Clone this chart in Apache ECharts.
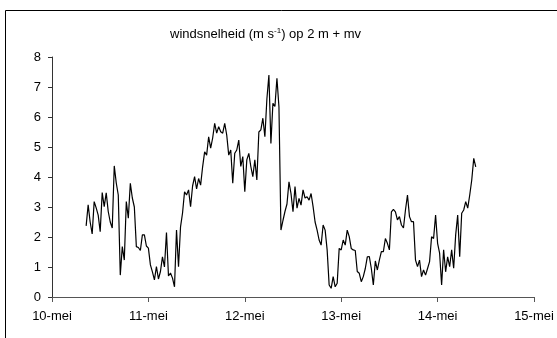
<!DOCTYPE html>
<html>
<head>
<meta charset="utf-8">
<title>windsnelheid</title>
<script src="https://cdn.jsdelivr.net/npm/echarts@6/dist/echarts.min.js"></script>
<style>
  html, body { margin: 0; padding: 0; background: #fff; }
  #chart { width: 557px; height: 338px; }
</style>
</head>
<body>
<div id="chart"></div>
<script>
// Half-hourly wind speed at 2 m above ground level, 10-14 May.
const dayLabels = ['10-mei', '11-mei', '12-mei', '13-mei', '14-mei', '15-mei'];
const startHour = 8.5;   // hours after 10 May 00:00 of the first reading
const stepHours = 0.5;   // interval between readings
const windSpeed = [
  2.37, 3.07, 2.50, 2.10, 3.18, 2.97, 2.73, 2.18, 3.48, 3.01,
  3.47, 2.85, 2.50, 2.30, 4.37, 3.80, 3.40, 0.73, 1.68, 1.23,
  3.18, 2.63, 3.79, 3.30, 3.00, 1.68, 1.65, 1.55, 2.07, 2.07,
  1.70, 1.63, 1.07, 0.84, 0.57, 1.01, 0.60, 0.85, 1.34, 1.00,
  2.15, 0.70, 0.80, 0.63, 0.34, 2.23, 1.01, 2.34, 2.80, 3.51,
  3.40, 3.57, 3.01, 3.70, 4.01, 3.60, 3.95, 3.73, 4.34, 4.84,
  4.73, 5.34, 4.96, 5.30, 5.79, 5.46, 5.68, 5.51, 5.46, 5.79,
  5.40, 4.73, 4.90, 3.79, 4.79, 4.90, 5.23, 4.35, 4.68, 3.51,
  4.57, 4.79, 4.35, 4.01, 4.57, 3.90, 5.50, 5.57, 5.96, 5.34,
  6.60, 7.40, 5.12, 6.46, 6.35, 7.29, 6.34, 2.23, 2.55, 2.85,
  3.10, 3.84, 3.45, 2.84, 3.68, 2.96, 3.29, 3.06, 3.57, 3.30,
  3.34, 3.23, 3.45, 3.01, 2.50, 2.23, 1.90, 1.73, 2.40, 2.23,
  1.57, 0.40, 0.29, 0.68, 0.34, 0.46, 1.62, 1.57, 1.90, 1.73,
  2.23, 2.01, 1.62, 1.57, 1.55, 0.85, 0.79, 0.51, 0.68, 0.95,
  1.34, 1.35, 0.95, 0.40, 1.20, 0.90, 1.23, 1.51, 1.51, 1.95,
  1.79, 1.57, 2.84, 2.92, 2.84, 2.57, 2.68, 2.40, 2.30, 2.90,
  3.40, 2.68, 2.51, 2.51, 1.23, 1.01, 1.23, 0.68, 0.90, 0.73,
  0.95, 1.18, 2.01, 1.95, 2.73, 1.79, 1.46, 0.40, 1.57, 0.84,
  1.34, 1.01, 1.57, 0.96, 2.07, 2.73, 1.34, 2.79, 2.90, 3.18,
  2.96, 3.40, 3.90, 4.62, 4.34
];

const seriesData = windSpeed.map((v, i) => [startHour + i * stepHours, v]);

const FONT = '"Liberation Sans", Arial, sans-serif';
const chart = echarts.init(document.getElementById('chart'), null, { renderer: 'canvas' });

chart.setOption({
  animation: false,
  backgroundColor: '#fff',
  title: {
    text: 'windsnelheid (m s{sup|-1}) op 2 m + mv',
    left: 170,
    top: 27,
    padding: 0,
    textStyle: {
      fontFamily: FONT,
      fontSize: 13,
      fontWeight: 'normal',
      color: '#000',
      rich: {
        sup: { fontFamily: FONT, fontSize: 8, color: '#000', verticalAlign: 'top', padding: [0, 0, 7, 0] }
      }
    }
  },
  graphic: [{
    type: 'rect',
    shape: { x: 5.5, y: 10.5, width: 600, height: 400 },
    style: { fill: 'none', stroke: '#000', lineWidth: 1 },
    silent: true,
    z: -1
  }],
  grid: { left: 52, right: 23, top: 57, bottom: 41, containLabel: false },
  xAxis: {
    type: 'value',
    min: 0,
    max: 120,
    interval: 24,
    axisLine: { show: true, onZero: false, lineStyle: { color: '#555', width: 1 } },
    axisTick: { show: true, inside: false, length: 5, lineStyle: { color: '#555' } },
    splitLine: { show: false },
    axisLabel: {
      margin: 13,
      fontFamily: FONT,
      fontSize: 13,
      color: '#000',
      formatter: v => dayLabels[Math.round(v / 24)]
    }
  },
  yAxis: {
    type: 'value',
    min: 0,
    max: 8,
    interval: 1,
    axisLine: { show: true, lineStyle: { color: '#333', width: 1 } },
    axisTick: { show: true, inside: false, length: 4, lineStyle: { color: '#333' } },
    splitLine: { show: false },
    axisLabel: {
      margin: 11,
      fontFamily: FONT,
      fontSize: 13,
      color: '#000'
    }
  },
  series: [{
    type: 'line',
    data: seriesData,
    showSymbol: false,
    symbol: 'none',
    lineStyle: { color: '#000', width: 1.2 },
    itemStyle: { color: '#000' }
  }]
});
</script>
</body>
</html>
